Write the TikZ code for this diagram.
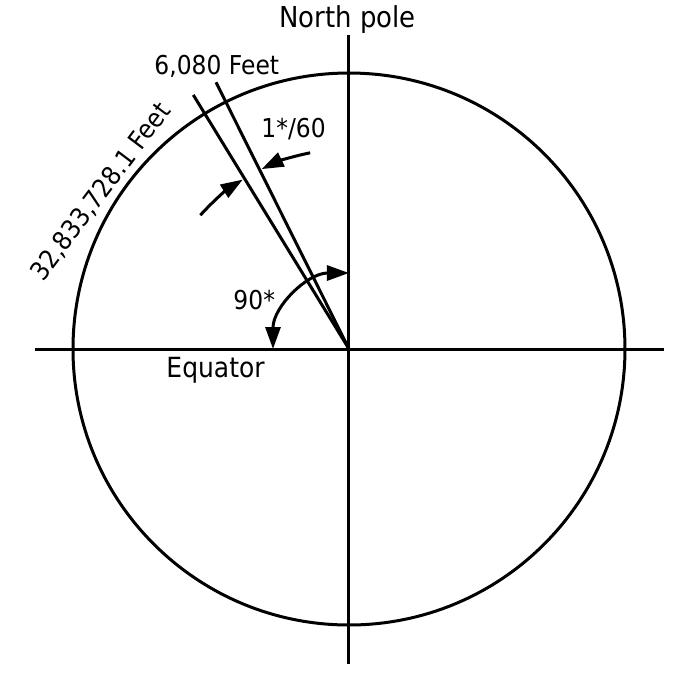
\documentclass[tikz,border=0pt]{standalone}
\usepackage{fontspec}
\setmainfont{DejaVu Sans}[FakeStretch=0.9]
\usepackage{tikz}
\usetikzlibrary{arrows.meta}

\begin{document}
\begin{tikzpicture}[line width=0.3mm,
	tip/.style={-{Triangle[length=2.2mm,width=1.5mm]}},
	twotip/.style={{Triangle[length=2.2mm,width=1.5mm]}-{Triangle[length=2.2mm,width=1.5mm]}},
	lbl/.style={inner sep=0pt,anchor=base west,font=\fontsize{7.4}{9}\selectfont},
	biglbl/.style={lbl,font=\fontsize{8.2}{10}\selectfont}]
	\useasboundingbox (-3.49,-3.51) rectangle (3.51,3.49);
	\coordinate (O) at (0,0);
	\coordinate (W) at (-3.14,0);
	\coordinate (E) at (3.15,0);
	\coordinate (N) at (0,3.14);
	\coordinate (S) at (0,-3.15);
	\draw (W) -- (E);
	\draw (N) -- (S);
	\draw (O) circle (2.76);
	
	\coordinate (A) at (121.5:2.98);
	\coordinate (B) at (116.5:2.98);
	\draw (O) -- (A);
	\draw (O) -- (B);
	
	\draw[twotip] (180:0.76) arc[start angle=180,end angle=90,radius=0.76];
	\draw[tip] (101.2:2.0) arc[start angle=101.2,end angle=115.9,radius=2.0];
	\draw[tip] (138:2.0) arc[start angle=138,end angle=122.1,radius=2.0];
	
	\node[biglbl] (np) at (-0.71,3.22) {North pole};
	\node[biglbl,font=\fontsize{7.9}{10}\selectfont] (eq) at (-1.84,-0.28) {Equator};
	\node[lbl] (arcft) at (-1.96,2.75) {6,080 Feet};
	\node[lbl] (deg) at (-0.89,2.12) {1*/60};
	\node[lbl] (ninety) at (-1.17,0.40) {90*};
	\node[lbl,anchor=center,rotate=53] (circft) at (-2.48,1.57) {32,833,728.1 Feet};
\end{tikzpicture}
\end{document}
